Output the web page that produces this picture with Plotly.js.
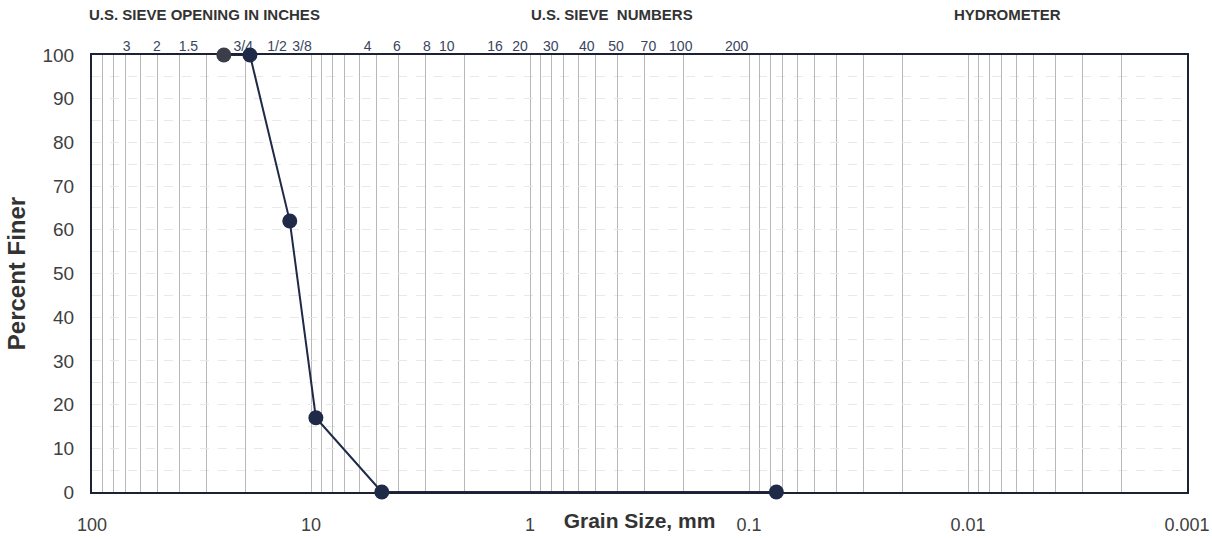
<!DOCTYPE html>
<html>
<head>
<meta charset="utf-8">
<script src="https://cdn.plot.ly/plotly-3.0.1.min.js"></script>
<style>html,body{margin:0;padding:0;background:#fff;}#chart{width:1212px;height:539px;}</style>
</head>
<body>
<div id="chart"></div>
<script>
// ---- data ----
const grainSize = [25, 19, 12.5, 9.5, 4.75, 0.075];      // mm
const percentFiner = [100, 100, 62, 17, 0, 0];            // %
const markerColors = ['#3b3e49', '#1f2a48', '#1f2a48', '#1f2a48', '#1f2a48', '#1f2a48'];

// top (sieve) labels and where they sit along the grain-size axis
const sieveLabels = ['3','2','1.5','3/4','1/2','3/8','4','6','8','10','16','20','30','40','50','70','100','200'];
const sieveLabelPos = [69.4, 50.6, 36.3, 20.4, 14.3, 11.0, 5.51, 4.05, 2.96, 2.40, 1.445, 1.11, 0.804, 0.551, 0.405, 0.288, 0.205, 0.1138];

// bottom tick labels
const decadeVals = [100, 10, 1, 0.1, 0.01, 0.001];
const decadeText = ['100', '10', '1', '0.1', '0.01', '0.001'];

// y ticks
const yTicks = [0,10,20,30,40,50,60,70,80,90,100];

// section headers
const headers = ['U.S. SIEVE OPENING IN INCHES', 'U.S. SIEVE  NUMBERS', 'HYDROMETER'];
const headerPos = [0.103, 0.475, 0.836];

// log grid positions (1..9 in each decade)
const gridVals = [];
for (let e = -3; e <= 1; e++) {
  for (let k = 1; k <= 9; k++) gridVals.push(k * Math.pow(10, e));
}
gridVals.push(100);

const xRange = [Math.log10(100), Math.log10(0.001)];
const font = 'Liberation Sans, Arial, Helvetica, sans-serif';

const traces = [
  {
    x: grainSize, y: percentFiner, type: 'scatter', mode: 'lines+markers',
    line: {color: '#1f2a48', width: 2},
    marker: {color: markerColors, size: 15},
    cliponaxis: false, hoverinfo: 'x+y', showlegend: false
  },
  {x: [], y: [], xaxis: 'x2', type: 'scatter', showlegend: false, hoverinfo: 'skip'},
  {x: [], y: [], xaxis: 'x3', type: 'scatter', showlegend: false, hoverinfo: 'skip'}
];

const annotations = headers.map((h, i) => ({
  text: '<b>' + h + '</b>', xref: 'paper', yref: 'paper', x: headerPos[i], y: 1,
  yshift: 41, xanchor: 'center', yanchor: 'middle', showarrow: false,
  font: {family: font, size: 15, color: '#333333'}
}));

const layout = {
  width: 1212, height: 539,
  margin: {l: 92, r: 25, t: 55, b: 47, pad: 0},
  paper_bgcolor: '#ffffff', plot_bgcolor: '#ffffff',
  font: {family: font, color: '#404040'},
  showlegend: false,
  xaxis: {
    type: 'log', range: xRange, autorange: false,
    tickmode: 'array', tickvals: gridVals, showticklabels: false, ticks: '',
    showgrid: true, gridcolor: '#b8b8b8', gridwidth: 1,
    showline: true, mirror: true, linecolor: '#1c2233', linewidth: 2,
    zeroline: false, layer: 'below traces', automargin: false,
    title: {text: '<b>Grain Size, mm</b>', standoff: 20, font: {family: font, size: 21, color: '#333333'}}
  },
  xaxis2: {
    type: 'log', range: xRange, autorange: false, overlaying: 'x', side: 'top', anchor: 'y',
    tickmode: 'array', tickvals: sieveLabelPos, ticktext: sieveLabels,
    showgrid: false, ticks: '', showline: false, zeroline: false, layer: 'below traces',
    ticklabelstandoff: 0, automargin: false,
    tickfont: {family: font, size: 14, color: '#3a4460'}
  },
  xaxis3: {
    type: 'log', range: xRange, autorange: false, overlaying: 'x', side: 'bottom', anchor: 'y',
    tickmode: 'array', tickvals: decadeVals, ticktext: decadeText,
    showgrid: false, ticks: '', showline: false, zeroline: false, layer: 'below traces',
    ticklabelstandoff: 20, automargin: false,
    tickfont: {family: font, size: 18, color: '#404040'}
  },
  yaxis: {
    range: [0, 100], autorange: false,
    tickmode: 'array', tickvals: yTicks,
    showgrid: true, gridcolor: '#e8e8e8', griddash: 'dash', gridwidth: 1,
    minor: {dtick: 5, showgrid: true, gridcolor: '#e8e8e8', griddash: 'dash'},
    showline: true, mirror: true, linecolor: '#1c2233', linewidth: 2,
    ticks: '', zeroline: false, layer: 'below traces', automargin: false,
    ticklabelstandoff: 12,
    tickfont: {family: font, size: 19, color: '#404040'},
    title: {text: '<b>Percent Finer</b>', standoff: 10, font: {family: font, size: 24, color: '#333333'}}
  },
  annotations: annotations
};

Plotly.newPlot('chart', traces, layout, {displayModeBar: false, staticPlot: true});
</script>
</body>
</html>
